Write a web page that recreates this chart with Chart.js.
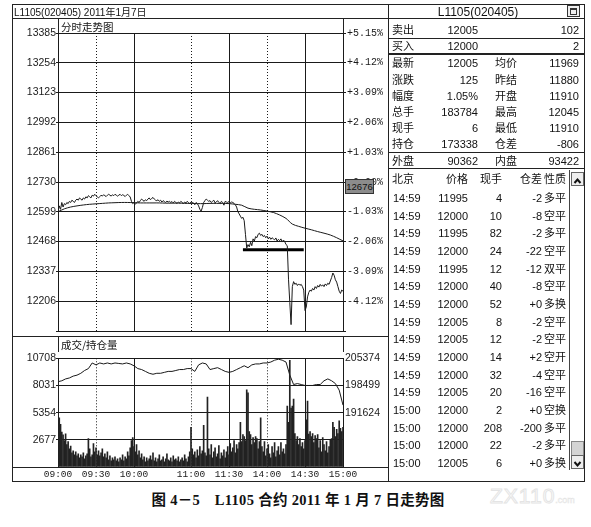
<!DOCTYPE html>
<html>
<head>
<meta charset="utf-8">
<script src="https://cdn.jsdelivr.net/npm/chart.js@4.4.1/dist/chart.umd.min.js"></script>
<style>
  body { margin: 0; background: #fff; }
  #page { position: relative; width: 591px; height: 527px; overflow: hidden; background: #fff; color: #111;
          font-family: "Liberation Sans", "Noto Sans CJK SC", sans-serif; }
  canvas { position: absolute; }
  .t { position: absolute; line-height: 14px; white-space: pre; font-size: 11px; }
  .ln { position: absolute; background: #222; }
  #caption { position: absolute; left: 0; width: 596px; top: 488px; text-align: center; font-weight: bold;
             font-size: 14.5px; font-family: "Liberation Serif", "Noto Sans CJK SC", serif; letter-spacing: 0.3px; }
  #mark { position: absolute; left: 490px; top: 484px; font: 21px "Liberation Sans", sans-serif;
          color: #fff; -webkit-text-stroke: 1px #e4e4e4; letter-spacing: 1px; }
  #mark span { font-size: 9px; -webkit-text-stroke: 0.5px #e4e4e4; letter-spacing: 0; }
  #cursor { position: absolute; left: 345px; top: 179px; width: 27px; height: 13px; background: #8c8c8c;
            border: 1px solid #333; font: 9.5px "Liberation Sans", sans-serif; line-height: 13px; text-align: center; color: #111; }
</style>
</head>
<body>
<div id="page">
  <canvas id="priceChart" width="376" height="320" style="left:12px;top:18px"></canvas>
  <canvas id="volChart" width="376" height="131" style="left:12px;top:350px"></canvas>
  <div id="caption">图 4－5　L1105 合约 2011 年 1 月 7 日走势图</div>
  <div id="mark">ZX110<span>.com</span></div>
</div>
<script>
// time axis: minutes from 09:00 over the trading session (225 minutes)
const timeMinutes = [0, 30, 60, 105, 135, 165, 195, 225];
const timeLabels = ['09:00', '09:30', '10:00', '11:00', '11:30', '14:00', '14:30', '15:00'];
const gridMinutes = [30, 60, 105, 135, 165, 195];
const gridDotted = [true, false, true, false, true, false];

// price panel
const priceTicks = [12075, 12206, 12337, 12468, 12599, 12730, 12861, 12992, 13123, 13254, 13385];
const pctLabels = ['', '-4.12%', '-3.09%', '-2.06%', '-1.03%', ' 0.00%', '+1.03%', '+2.06%', '+3.09%', '+4.12%', '+5.15%'];

// one price per minute
const priceValues = [
  12599,12625,12610,12640,12620,12635,12630,12640,12635,12645,
  12640,12650,12645,12640,12650,12655,12650,12660,12655,12650,
  12660,12655,12665,12660,12670,12665,12660,12672,12668,12676,
  12670,12664,12660,12666,12672,12668,12674,12670,12666,12672,
  12676,12672,12668,12674,12670,12676,12672,12668,12672,12676,
  12670,12674,12671,12666,12672,12676,12670,12664,12645,12635,
  12640,12632,12638,12645,12640,12648,12655,12650,12645,12652,
  12648,12655,12660,12652,12658,12662,12655,12650,12648,12652,
  12645,12650,12642,12648,12644,12640,12646,12642,12645,12640,
  12644,12638,12645,12640,12636,12642,12638,12645,12640,12636,
  12642,12638,12645,12640,12635,12642,12640,12638,12630,12640,
  12635,12625,12610,12602,12618,12640,12648,12655,12650,12645,
  12648,12640,12645,12650,12638,12642,12648,12640,12635,12645,
  12640,12628,12645,12642,12640,12644,12638,12642,12640,12636,
  12630,12620,12600,12590,12580,12570,12575,12560,12500,12440,
  12455,12445,12465,12450,12480,12470,12490,12485,12500,12505,
  12495,12500,12490,12495,12485,12492,12480,12488,12478,12485,
  12480,12476,12484,12470,12478,12472,12480,12466,12475,12468,
  12455,12450,12300,12200,12103,12270,12292,12280,12285,12275,
  12282,12276,12280,12270,12255,12165,12180,12225,12245,12255,
  12250,12262,12255,12270,12262,12275,12268,12280,12272,12278,
  12270,12282,12275,12285,12280,12295,12310,12330,12320,12300,
  12290,12270,12250,12240,12255,12250
];

// average price, every 5 minutes
const avgStep = 5;
const avgValues = [
  12599,12612,12620,12625,12629,12632,12634,12636,12638,12639,
  12640,12640,12639,12638,12638,12638,12638,12637,12637,12637,
  12636,12636,12635,12635,12636,12636,12636,12635,12632,12628,
  12615,12610,12607,12602,12596,12585,12570,12545,12535,12527,
  12520,12512,12505,12497,12485,12471
];

// the thick support line drawn on the price panel
const supportMinutes = [146, 194];
const supportPrices = [12432, 12432];

// volume panel
const volTicks = [0, 2677, 5354, 8031, 10708];
const oiTicks = [191624, 198499, 205374];

// volume per minute
const volValues = [
  10150,4840,4200,3450,3170,2600,3260,2200,2500,1800,
  2050,1400,1600,1200,1500,1100,1300,900,1200,1000,
  1400,800,1100,1300,2800,1800,1000,1200,2300,1500,
  1900,1200,1600,1100,1400,1800,1000,1300,900,1500,
  700,1100,600,900,700,1000,600,800,500,900,
  700,1200,600,1000,800,1500,1100,1900,2600,2900,
  2000,1500,2200,1200,1600,900,1300,700,1000,500,
  900,600,800,1100,700,1400,600,900,500,800,
  1200,600,700,1000,500,800,1300,700,600,900,
  500,1100,700,800,600,1000,500,700,900,600,
  1200,800,500,1000,1500,3900,1800,1200,1500,900,
  1700,1100,2000,1300,1600,4100,1400,1100,6900,1800,
  1200,2200,900,1500,1900,1000,1300,2100,800,1400,
  1100,1700,900,1500,2000,1200,2300,1500,1900,2600,
  1400,2200,1800,2400,4400,2500,3200,3000,2600,7600,
  7300,3500,3200,2200,2900,2400,3000,2800,1800,2500,
  4840,2000,1500,2500,1100,1800,2200,1300,900,2000,
  1400,2400,1000,1600,2000,1200,2400,1500,1800,1300,
  2200,6000,4400,10500,5800,6000,6700,3300,2600,3000,
  2200,2800,2000,2400,1800,2600,4650,6500,3250,3500,
  3000,3300,2400,3100,2800,3200,1900,2600,1500,2900,
  2200,1600,2500,1400,2000,2700,2800,4400,3900,3000,
  3700,3300,4560,3800,3500,3900
];

// open interest, every 3 minutes
const oiStep = 3;
const oiValues = [
  199450,199690,200160,200400,200870,201110,201580,202290,202770,204190,
  203710,204190,203950,204190,203950,204190,204070,203950,204190,203950,
  203480,202770,202530,202060,201580,201340,201580,201580,201820,202060,
  202060,202290,202530,202530,202770,202770,202060,203710,204190,203950,
  202530,202770,203000,202530,202060,201820,202060,202530,203000,203480,
  203000,203710,203950,203950,204190,204190,204430,204900,205140,204900,
  204430,201110,198740,198980,198740,198500,198500,198500,198740,198740,
  199690,200160,199690,198980,197320,193530
];

// quote panel
const headTitle = 'L1105(020405)';
const sellRow = ['卖出', '12005', '102'];
const buyRow = ['买入', '12000', '2'];
const quoteRows = [
  ['最新', '12005', '均价', '11969'],
  ['涨跌', '125', '昨结', '11880'],
  ['幅度', '1.05%', '开盘', '11910'],
  ['总手', '183784', '最高', '12045'],
  ['现手', '6', '最低', '11910'],
  ['持仓', '173338', '仓差', '-806']
];
const outerRow = ['外盘', '90362', '内盘', '93422'];
const tickHeader = ['北京', '价格', '现手', '仓差', '性质'];
const tickTimes = ['14:59','14:59','14:59','14:59','14:59','14:59','14:59','14:59','14:59','14:59','14:59','14:59','15:00','15:00','15:00','15:00'];
const tickPrices = ['11995','12000','11995','12000','11995','12000','12000','12005','12005','12000','12000','12005','12000','12000','12000','12005'];
const tickVols = ['4','10','82','24','12','40','52','8','12','14','32','20','2','208','22','6'];
const tickDiffs = ['-2','-8','-2','-22','-12','-8','+0','-2','-2','+2','-4','-16','+0','-200','-2','+0'];
const tickTypes = ['多平','空平','多平','空平','双平','空平','多换','空平','空平','空开','空平','空平','空换','多平','多平','多换'];

const page = document.getElementById('page');
const INK = '#1a1a1a';

function put(text, x, y, align, font) {
  const d = document.createElement('div');
  d.className = 't';
  d.textContent = text;
  d.style.top = (y - 7) + 'px';
  if (align === 'right') d.style.right = (591 - x) + 'px';
  else if (align === 'center') { d.style.left = x + 'px'; d.style.transform = 'translateX(-50%)'; }
  else d.style.left = x + 'px';
  if (font) d.style.font = font;
  page.appendChild(d);
}
function line(x, y, w, h) {
  const d = document.createElement('div');
  d.className = 'ln';
  d.style.left = x + 'px'; d.style.top = y + 'px';
  d.style.width = w + 'px'; d.style.height = h + 'px';
  page.appendChild(d);
}

// vertical session grid (solid and dotted)
const timeGrid = {
  id: 'timeGrid',
  beforeDatasetsDraw(chart) {
    const { ctx, chartArea: a, scales: { x } } = chart;
    ctx.save();
    ctx.strokeStyle = INK;
    ctx.lineWidth = 1;
    gridMinutes.forEach((m, i) => {
      const px = Math.round(x.getPixelForValue(m)) + 0.5;
      ctx.setLineDash(gridDotted[i] ? [1, 2] : []);
      ctx.beginPath();
      ctx.moveTo(px, a.top);
      ctx.lineTo(px, a.bottom);
      ctx.stroke();
    });
    ctx.restore();
  }
};

const numFont = { family: '"Liberation Sans", Arial, sans-serif', size: 10.5 };
const monoFont = { family: '"Liberation Mono", "DejaVu Sans Mono", monospace', size: 10 };

new Chart(document.getElementById('priceChart'), {
  type: 'line',
  data: {
    datasets: [
      { data: priceValues.map((v, i) => ({ x: i, y: v })), borderColor: INK, borderWidth: 1, pointRadius: 0, tension: 0 },
      { data: avgValues.map((v, i) => ({ x: i * avgStep, y: v })), borderColor: INK, borderWidth: 1, pointRadius: 0, tension: 0.3 },
      { data: supportMinutes.map((m, i) => ({ x: m, y: supportPrices[i] })), borderColor: '#000', borderWidth: 3, pointRadius: 0 }
    ]
  },
  options: {
    responsive: false,
    animation: false,
    devicePixelRatio: 1,
    layout: { padding: { top: 15, bottom: 2, left: 0, right: 0 } },
    plugins: { legend: { display: false }, tooltip: { enabled: false } },
    scales: {
      x: { type: 'linear', min: 0, max: 225, display: false },
      y: {
        position: 'left', min: 12075, max: 13385,
        afterBuildTicks: s => { s.ticks = priceTicks.map(v => ({ value: v })); },
        afterFit: s => { s.width = 46; },
        ticks: { color: INK, font: numFont, padding: 0, callback: (v, i) => (i === 0 ? '' : String(priceTicks[i])) },
        grid: { color: INK, lineWidth: 1, drawTicks: true, tickLength: 2 },
        border: { display: true, color: INK }
      },
      pct: {
        position: 'right', min: 12075, max: 13385,
        afterBuildTicks: s => { s.ticks = priceTicks.map(v => ({ value: v })); },
        afterFit: s => { s.width = 45; },
        ticks: { color: INK, font: monoFont, padding: 1, callback: (v, i) => pctLabels[i] },
        grid: { drawOnChartArea: false, drawTicks: true, tickLength: 3, tickColor: INK },
        border: { display: true, color: INK }
      }
    }
  },
  plugins: [timeGrid]
});

new Chart(document.getElementById('volChart'), {
  data: {
    datasets: [
      { type: 'bar', data: volValues.map((v, i) => ({ x: i, y: v })), backgroundColor: '#222', barThickness: 1, yAxisID: 'y' },
      { type: 'line', data: oiValues.map((v, i) => ({ x: i * oiStep, y: v })), borderColor: INK, borderWidth: 1,
        pointRadius: 0, tension: 0, yAxisID: 'oi' }
    ]
  },
  options: {
    responsive: false,
    animation: false,
    devicePixelRatio: 1,
    layout: { padding: { top: 2, bottom: 0, left: 0, right: 0 } },
    plugins: { legend: { display: false }, tooltip: { enabled: false } },
    scales: {
      x: {
        type: 'linear', min: 0, max: 225, offset: false,
        afterBuildTicks: s => { s.ticks = timeMinutes.map(v => ({ value: v })); },
        afterFit: s => { s.height = 14; },
        ticks: { color: INK, font: { family: monoFont.family, size: 9.5 }, padding: 2, maxRotation: 0, autoSkip: false,
                 callback: (v, i) => timeLabels[i] },
        grid: { display: false, drawTicks: false },
        border: { display: true, color: INK }
      },
      y: {
        position: 'left', min: 0, max: 10708,
        afterBuildTicks: s => { s.ticks = volTicks.map(v => ({ value: v })); },
        afterFit: s => { s.width = 46; },
        ticks: { color: INK, font: numFont, padding: 0, callback: (v, i) => (i === 0 ? '' : String(volTicks[i])) },
        grid: { color: INK, lineWidth: 1, drawTicks: true, tickLength: 2 },
        border: { display: true, color: INK }
      },
      oi: {
        position: 'right', min: 177874, max: 205374,
        afterBuildTicks: s => { s.ticks = oiTicks.map(v => ({ value: v })); },
        afterFit: s => { s.width = 45; },
        ticks: { color: INK, font: numFont, padding: 2, callback: (v, i) => String(oiTicks[i]) },
        grid: { drawOnChartArea: false, drawTicks: false },
        border: { display: true, color: INK }
      }
    }
  },
  plugins: [timeGrid]
});

// ---- frame and panel lines ----
line(12, 4, 573, 1);      // top
line(12, 481, 573, 1);    // bottom
line(12, 4, 1, 478);      // left
line(584, 4, 1, 478);     // right
line(388, 4, 1, 478);     // panel split
line(12, 18, 573, 1);     // under headers
line(58, 18, 1, 15);      // title box sides
line(343, 18, 1, 15);
line(12, 336, 376, 1);    // price / volume split
line(58, 336, 1, 16);
line(343, 336, 1, 16);
line(12, 467, 46, 1);
line(343, 467, 45, 1);

put('L1105(020405) 2011年1月7日', 14, 11, 'left', '10px "Liberation Sans", "Noto Sans CJK SC", sans-serif');
put('分时走势图', 61, 26, 'left', '10.5px "Noto Sans CJK SC", sans-serif');
put('成交/持仓量', 61, 344, 'left', '10.5px "Noto Sans CJK SC", sans-serif');

const cur = document.createElement('div');
cur.id = 'cursor';
cur.textContent = '12676';
page.appendChild(cur);

// ---- quote panel ----
put(headTitle, 478, 12, 'center', '12px "Liberation Sans", sans-serif');
const icon = document.createElement('div');
icon.style.cssText = 'position:absolute;left:567px;top:5px;width:11px;height:10px;border:1px solid #333;background:#eee;';
icon.innerHTML = '<div style="position:absolute;left:2px;top:2px;width:5px;height:4px;border:1px solid #333;border-top-width:2px"></div>';
page.appendChild(icon);

line(388, 38, 196, 1);
line(388, 53, 196, 2);
line(388, 152, 196, 1);
line(388, 168, 196, 1);

put(sellRow[0], 392, 30); put(sellRow[1], 478, 30, 'right'); put(sellRow[2], 579, 30, 'right');
put(buyRow[0], 392, 46); put(buyRow[1], 478, 46, 'right'); put(buyRow[2], 579, 46, 'right');
const quoteY = [63, 80, 96, 112, 128, 144];
quoteRows.forEach((r, i) => {
  put(r[0], 392, quoteY[i]); put(r[1], 478, quoteY[i], 'right');
  put(r[2], 495, quoteY[i]); put(r[3], 579, quoteY[i], 'right');
});
put(outerRow[0], 392, 161); put(outerRow[1], 478, 161, 'right');
put(outerRow[2], 495, 161); put(outerRow[3], 579, 161, 'right');

put(tickHeader[0], 392, 179); put(tickHeader[1], 468, 179, 'right'); put(tickHeader[2], 502, 179, 'right');
put(tickHeader[3], 542, 179, 'right'); put(tickHeader[4], 544, 179);
tickTimes.forEach((t, k) => {
  const y = 198 + k * 17.67;
  put(t, 393, y);
  put(tickPrices[k], 468, y, 'right');
  put(tickVols[k], 502, y, 'right');
  put(tickDiffs[k], 542, y, 'right');
  put(tickTypes[k], 544, y);
});

// scrollbar
const sb = document.createElement('div');
sb.style.cssText = 'position:absolute;left:569px;top:170px;width:14px;height:300px;border-left:1px solid #444;background:#fff;';
sb.innerHTML =
  '<div style="position:absolute;left:1px;top:2px;width:11px;height:12px;border:1px solid #666;background:#eee">' +
  '<svg width="11" height="12"><polyline points="2.5,8 5.5,4.5 8.5,8" fill="none" stroke="#111" stroke-width="2"/></svg></div>' +
  '<div style="position:absolute;left:1px;top:271px;width:11px;height:13px;border:1px solid #888;background:#d4d4d4"></div>' +
  '<div style="position:absolute;left:1px;top:285px;width:11px;height:12px;border:1px solid #666;background:#eee">' +
  '<svg width="11" height="12"><polyline points="2.5,4 5.5,7.5 8.5,4" fill="none" stroke="#111" stroke-width="2"/></svg></div>';
page.appendChild(sb);
</script>
</body>
</html>
